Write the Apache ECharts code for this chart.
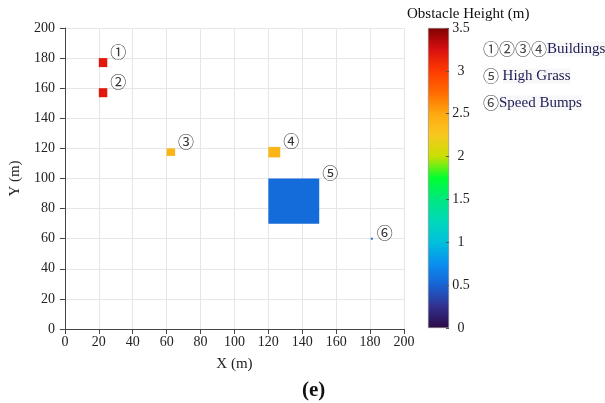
<!DOCTYPE html>
<html>
<head>
<meta charset="utf-8">
<script src="https://cdn.jsdelivr.net/npm/echarts@6/dist/echarts.min.js"></script>
<style>
html,body{margin:0;padding:0;background:#fff;}
#chart{width:605px;height:403px;}
</style>
</head>
<body>
<div id="chart"></div>
<script>
// ---- data ----
var obstacleIds = ['①', '②', '③', '④', '⑤', '⑥'];
var obstacleX0 = [20, 20, 60, 120, 120, 181];
var obstacleX1 = [25, 25, 65, 127, 150, 181];
var obstacleY0 = [174, 154, 115, 114, 70, 60];
var obstacleY1 = [180, 160, 120, 121, 100, 60];
var obstacleHeight = [3.2, 3.2, 2.4, 2.4, 0.55, 0.55];

var xTicks = [0, 20, 40, 60, 80, 100, 120, 140, 160, 180, 200];
var yTicks = [0, 20, 40, 60, 80, 100, 120, 140, 160, 180, 200];
var heightTicks = [0, 0.5, 1, 1.5, 2, 2.5, 3, 3.5];
// colormap stops, evenly spaced from 0 to 3.5
var colormap = ['#2b0a45', '#33308f', '#1762d4', '#0a8ff0', '#00c0dc', '#00d8b8', '#00e880',
                '#00ff30', '#c8e000', '#f8c820', '#ffa810', '#ff6a00', '#ff3a00', '#d81010', '#800000'];
var legendLines = [
  {ids: '①②③④', text: 'Buildings'},
  {ids: '⑤ ', text: 'High Grass'},
  {ids: '⑥', text: 'Speed Bumps'}
];

var hMax = heightTicks[heightTicks.length - 1];
var obstacles = obstacleIds.map(function (id, i) {
  return [obstacleX0[i], obstacleY0[i], obstacleX1[i], obstacleY1[i], obstacleHeight[i], id];
});

var gradStops = colormap.map(function (c, i) {
  return {offset: 1 - i / (colormap.length - 1), color: c};
});

var serif = '"Liberation Serif", "DejaVu Serif", serif';
var circ = '"Noto Sans CJK JP", "DejaVu Sans", sans-serif';

var chart = echarts.init(document.getElementById('chart'), null, {renderer: 'canvas'});

var option = {
  animation: false,
  backgroundColor: '#fff',
  grid: [
    {left: 64, top: 28, width: 340, height: 301},
    {left: 428, top: 28, width: 21, height: 300}
  ],
  xAxis: [
    {
      gridIndex: 0, type: 'value', min: xTicks[0], max: xTicks[xTicks.length - 1], interval: 20,
      name: 'X (m)', nameLocation: 'middle', nameGap: 28,
      nameTextStyle: {fontFamily: serif, fontSize: 15, color: '#222'},
      axisLine: {show: true, onZero: false, lineStyle: {color: '#444', width: 1}},
      axisTick: {show: true, length: 5, lineStyle: {color: '#444'}},
      axisLabel: {fontFamily: serif, fontSize: 14, color: '#222', margin: 6},
      splitLine: {show: true, lineStyle: {color: '#e6e6e6'}}
    },
    {
      gridIndex: 1, type: 'category', data: ['h'], show: false
    }
  ],
  yAxis: [
    {
      gridIndex: 0, type: 'value', min: yTicks[0], max: yTicks[yTicks.length - 1], interval: 20,
      name: 'Y (m)', nameLocation: 'middle', nameGap: 37,
      nameTextStyle: {fontFamily: serif, fontSize: 15, color: '#222'},
      axisLine: {show: true, onZero: false, lineStyle: {color: '#444', width: 1}},
      axisTick: {show: true, length: 5, lineStyle: {color: '#444'}},
      axisLabel: {fontFamily: serif, fontSize: 14, color: '#222', margin: 10},
      splitLine: {show: true, lineStyle: {color: '#e6e6e6'}}
    },
    {
      gridIndex: 1, type: 'value', min: 0, max: hMax, interval: 0.5, position: 'right',
      axisLine: {show: false},
      axisTick: {show: true, inside: true, length: 3, lineStyle: {color: '#555'}},
      axisLabel: {fontFamily: serif, fontSize: 14, color: '#222', margin: 12, align: 'center'},
      splitLine: {show: false},
      z: 5
    }
  ],
  visualMap: {
    show: false, type: 'continuous', min: 0, max: hMax, dimension: 4, seriesIndex: 0,
    inRange: {color: colormap}
  },
  graphic: [
    {type: 'text', left: 407, top: 7,
      style: {text: 'Obstacle Height (m)', font: '15px ' + serif, fill: '#111'}},
    {type: 'text', left: 302, top: 380,
      style: {text: '(e)', font: 'bold 21px ' + serif, fill: '#111'}}
  ].concat(legendLines.map(function (l, i) {
    return {
      type: 'text', left: 483, top: 41 + i * 27,
      style: {
        text: '{c|' + l.ids + '}{t|' + l.text + '}',
        rich: {
          c: {fontFamily: circ, fontSize: 16, fill: '#444'},
          t: {fontFamily: serif, fontSize: 15, fill: '#1c1c50', backgroundColor: '#f7f7fa'}
        }
      }
    };
  })),
  series: [
    {
      type: 'custom', xAxisIndex: 0, yAxisIndex: 0,
      data: obstacles,
      encode: {x: [0, 2], y: [1, 3]},
      renderItem: function (params, api) {
        var tl = api.coord([api.value(0), api.value(3)]);
        var br = api.coord([api.value(2), api.value(1)]);
        var w = Math.max(br[0] - tl[0], 2);
        var h = Math.max(br[1] - tl[1], 2);
        var color = api.visual('color');
        return {
          type: 'group',
          children: [
            {type: 'rect', shape: {x: tl[0] - (br[0] - tl[0] < 2 ? 1 : 0), y: tl[1] - (br[1] - tl[1] < 2 ? 1 : 0), width: w, height: h},
              style: {fill: color}},
            {type: 'text', x: tl[0] + w + 3, y: tl[1] - 6,
              style: {text: obstacles[params.dataIndex][5], font: '16px ' + circ, fill: '#333',
                align: 'left', verticalAlign: 'middle'}}
          ]
        };
      }
    },
    {
      type: 'bar', xAxisIndex: 1, yAxisIndex: 1, barWidth: '100%',
      data: [hMax],
      itemStyle: {
        color: new echarts.graphic.LinearGradient(0, 0, 0, 1, gradStops),
        borderColor: '#888', borderWidth: 0.6
      },
      silent: true
    }
  ]
};
chart.setOption(option);
</script>
</body>
</html>
